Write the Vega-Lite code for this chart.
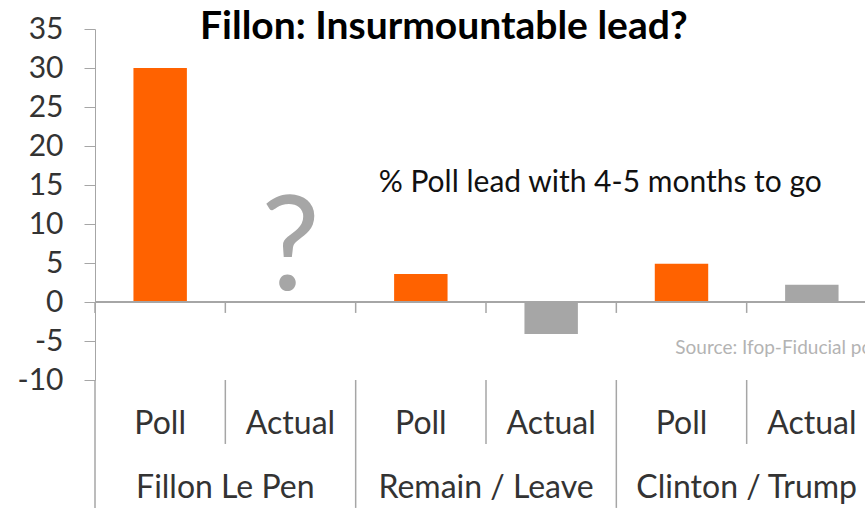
{
  "$schema": "https://vega.github.io/schema/vega-lite/v6.json",
  "width": 770,
  "height": 351,
  "autosize": {"type": "none"},
  "padding": {"left": 95, "top": 29, "right": 0, "bottom": 149},
  "config": {
    "view": {"stroke": null},
    "font": "Lato",
    "axisQuantitative": {"tickCount": 10}
  },
  "title": {
    "text": "Fillon: Insurmountable lead?",
    "fontSize": 39,
    "fontWeight": "bold",
    "color": "#000000",
    "anchor": "start",
    "frame": "group",
    "dx": 105,
    "dy": 37
  },
  "data": {
    "values": [
      {"key": "Fillon Le Pen|Poll", "group": "Fillon Le Pen", "type": "Poll", "value": 30},
      {"key": "Fillon Le Pen|Actual", "group": "Fillon Le Pen", "type": "Actual", "value": null},
      {"key": "Remain / Leave|Poll", "group": "Remain / Leave", "type": "Poll", "value": 3.6},
      {"key": "Remain / Leave|Actual", "group": "Remain / Leave", "type": "Actual", "value": -4.1},
      {"key": "Clinton / Trump|Poll", "group": "Clinton / Trump", "type": "Poll", "value": 4.9},
      {"key": "Clinton / Trump|Actual", "group": "Clinton / Trump", "type": "Actual", "value": 2.2}
    ]
  },
  "layer": [
    {
      "mark": {"type": "bar", "width": {"band": 0.41}},
      "encoding": {
        "x": {
          "field": "key", "type": "nominal", "sort": null,
          "scale": {
            "domain": ["Fillon Le Pen|Poll", "Fillon Le Pen|Actual", "Remain / Leave|Poll", "Remain / Leave|Actual", "Clinton / Trump|Poll", "Clinton / Trump|Actual"],
            "range": [0, 782], "paddingInner": 0, "paddingOuter": 0
          },
          "axis": {
            "title": null, "domain": false, "ticks": false, "labelAngle": 0,
            "labelExpr": "split(datum.label, '|')[1]",
            "labelFontSize": 32, "labelColor": "#333333", "labelPadding": 43,
            "labelBaseline": "middle"
          }
        },
        "y": {
          "field": "value", "type": "quantitative",
          "scale": {"domain": [-10, 35], "nice": false, "zero": false},
          "axis": {
            "title": null, "grid": false,
            "values": [-10, -5, 0, 5, 10, 15, 20, 25, 30, 35],
            "tickCount": 10,
            "labelExpr": "'' + datum.value",
            "labelOverlap": false,
            "domainColor": "#a6a6a6", "tickColor": "#a6a6a6", "tickSize": 11,
            "labelFontSize": 30, "labelColor": "#333333", "labelPadding": 21
          }
        },
        "color": {
          "field": "type", "type": "nominal",
          "scale": {"domain": ["Poll", "Actual"], "range": ["#FF6200", "#A6A6A6"]},
          "legend": null
        }
      }
    },
    {
      "mark": {"type": "rule", "color": "#a6a6a6", "strokeWidth": 1.5},
      "encoding": {"y": {"datum": 0}}
    },
    {
      "mark": {"type": "rule", "color": "#a6a6a6", "strokeWidth": 1.5},
      "encoding": {
        "x": {"field": "key", "type": "nominal", "sort": null, "bandPosition": 0},
        "y": {"datum": 0},
        "y2": {"datum": -1.4}
      }
    },
    {
      "transform": [{"filter": "datum.type === 'Poll'"}],
      "mark": {"type": "rule", "color": "#a6a6a6", "strokeWidth": 1.5},
      "encoding": {
        "x": {"field": "key", "type": "nominal", "sort": null, "bandPosition": 0},
        "y": {"datum": -10},
        "y2": {"datum": -26.4}
      }
    },
    {
      "transform": [{"filter": "datum.type === 'Actual'"}],
      "mark": {"type": "rule", "color": "#a6a6a6", "strokeWidth": 1.5},
      "encoding": {
        "x": {"field": "key", "type": "nominal", "sort": null, "bandPosition": 0},
        "y": {"datum": -10},
        "y2": {"datum": -18.2}
      }
    },
    {
      "transform": [{"filter": "datum.type === 'Actual'"}],
      "mark": {"type": "text", "fontSize": 32, "color": "#333333", "baseline": "middle", "align": "center"},
      "encoding": {
        "x": {"field": "key", "type": "nominal", "sort": null, "bandPosition": 0},
        "y": {"datum": -23.9},
        "text": {"field": "group"}
      }
    },
    {
      "transform": [{"filter": "datum.value === null"}],
      "mark": {"type": "text", "fontSize": 132, "color": "#A6A6A6", "baseline": "middle", "align": "center"},
      "encoding": {
        "x": {"field": "key", "type": "nominal", "sort": null},
        "y": {"datum": 6.7},
        "text": {"value": "?"}
      }
    },
    {
      "transform": [{"filter": "datum.key === 'Remain / Leave|Poll'"}],
      "mark": {"type": "text", "fontSize": 30, "color": "#111111", "baseline": "middle", "align": "left", "dx": 23},
      "encoding": {
        "x": {"field": "key", "type": "nominal", "sort": null, "bandPosition": 0},
        "y": {"datum": 15.2},
        "text": {"value": "% Poll lead with 4-5 months to go"}
      }
    },
    {
      "transform": [{"filter": "datum.key === 'Clinton / Trump|Poll'"}],
      "mark": {"type": "text", "fontSize": 19, "color": "#b3b3b3", "baseline": "middle", "align": "left", "dx": 59},
      "encoding": {
        "x": {"field": "key", "type": "nominal", "sort": null, "bandPosition": 0},
        "y": {"datum": -5.9},
        "text": {"value": "Source: Ifop-Fiducial poll"}
      }
    }
  ]
}
